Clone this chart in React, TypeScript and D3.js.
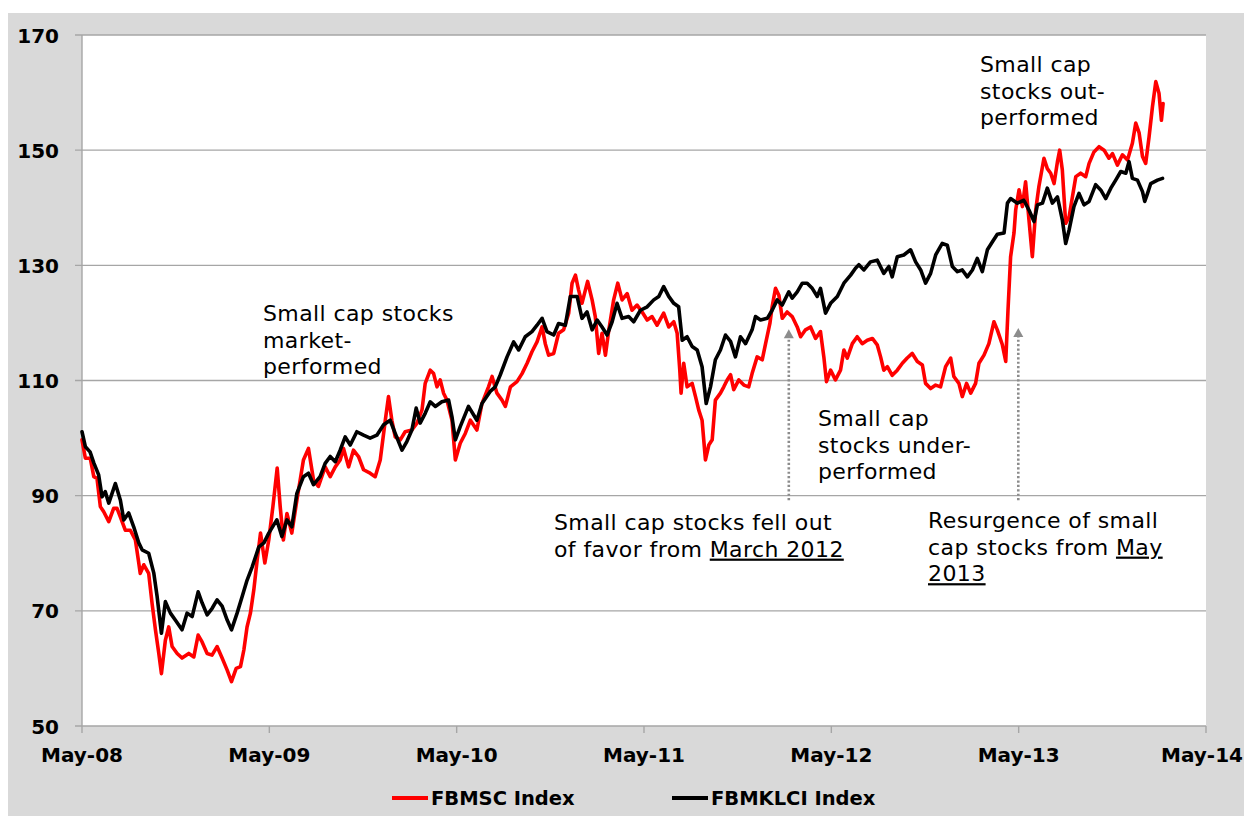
import React from 'react';
import * as d3 from 'd3';

const xTickYears = [2008.333, 2009.333, 2010.333, 2011.333, 2012.333, 2013.333, 2014.333];
const xTickLabels = ['May-08', 'May-09', 'May-10', 'May-11', 'May-12', 'May-13', 'May-14'];
const yTicks = [50, 70, 90, 110, 130, 150, 170];
const seriesNames = ['FBMSC Index', 'FBMKLCI Index'];
const seriesColors = ['#ff0000', '#000000'];

// [decimal year, index level]
const fbmsc: [number, number][] = [
  [2008.333, 99.7], [2008.351, 96.5], [2008.377, 96.5], [2008.396, 93.3], [2008.413, 93.0], [2008.431, 88.1],
  [2008.449, 87.2], [2008.476, 85.5], [2008.502, 87.8], [2008.52, 87.8], [2008.538, 86.3], [2008.564, 84.0],
  [2008.591, 84.0], [2008.618, 82.3], [2008.636, 78.3], [2008.644, 76.5], [2008.663, 78.0], [2008.689, 76.5],
  [2008.707, 71.3], [2008.725, 66.7], [2008.743, 62.6], [2008.757, 59.1], [2008.778, 64.9], [2008.796, 67.2],
  [2008.814, 63.8], [2008.841, 62.6], [2008.867, 61.8], [2008.903, 62.6], [2008.93, 62.0], [2008.953, 65.8],
  [2008.974, 64.6], [2009.001, 62.6], [2009.027, 62.3], [2009.054, 63.8], [2009.081, 61.8], [2009.108, 59.7],
  [2009.131, 57.7], [2009.156, 60.0], [2009.179, 60.3], [2009.197, 63.2], [2009.214, 67.2], [2009.232, 69.6],
  [2009.25, 73.6], [2009.268, 78.8], [2009.286, 83.5], [2009.309, 78.3], [2009.33, 82.3], [2009.352, 88.1],
  [2009.375, 94.8], [2009.391, 88.1], [2009.408, 82.3], [2009.427, 86.9], [2009.453, 83.5], [2009.48, 89.2],
  [2009.515, 96.2], [2009.542, 98.2], [2009.569, 92.7], [2009.595, 91.6], [2009.631, 95.0], [2009.658, 93.3],
  [2009.685, 95.0], [2009.711, 96.2], [2009.729, 98.2], [2009.756, 95.0], [2009.782, 97.9], [2009.809, 96.8],
  [2009.836, 94.5], [2009.871, 93.9], [2009.898, 93.3], [2009.925, 96.2], [2009.952, 103.1], [2009.969, 107.2],
  [2009.987, 103.1], [2010.005, 100.2], [2010.032, 99.7], [2010.058, 101.1], [2010.094, 101.4], [2010.121, 102.6],
  [2010.148, 104.9], [2010.165, 109.5], [2010.192, 111.8], [2010.21, 111.2], [2010.228, 108.9], [2010.245, 110.1],
  [2010.263, 107.8], [2010.281, 106.6], [2010.308, 103.1], [2010.326, 96.2], [2010.352, 99.1], [2010.379, 100.8],
  [2010.406, 103.1], [2010.441, 101.4], [2010.468, 106.0], [2010.503, 108.9], [2010.522, 110.7], [2010.548, 107.8],
  [2010.575, 106.6], [2010.593, 105.5], [2010.62, 108.9], [2010.655, 109.8], [2010.682, 111.2], [2010.709, 113.0],
  [2010.735, 115.0], [2010.762, 116.7], [2010.789, 119.3], [2010.806, 116.4], [2010.824, 114.4], [2010.851, 114.7],
  [2010.877, 118.2], [2010.904, 118.8], [2010.931, 121.7], [2010.949, 126.9], [2010.967, 128.3], [2010.984, 125.7],
  [2011.002, 123.4], [2011.02, 125.7], [2011.032, 127.2], [2011.056, 124.0], [2011.073, 121.1], [2011.091, 114.7],
  [2011.109, 118.2], [2011.127, 114.4], [2011.144, 118.5], [2011.171, 124.0], [2011.193, 126.9], [2011.216, 124.0],
  [2011.243, 125.1], [2011.269, 122.2], [2011.296, 123.1], [2011.323, 121.9], [2011.35, 120.5], [2011.376, 121.1],
  [2011.403, 119.6], [2011.438, 121.7], [2011.465, 119.3], [2011.492, 120.2], [2011.51, 118.2], [2011.524, 111.8],
  [2011.531, 107.8], [2011.545, 113.0], [2011.563, 108.9], [2011.59, 109.5], [2011.608, 107.2], [2011.625, 104.9],
  [2011.643, 103.1], [2011.661, 96.2], [2011.679, 98.8], [2011.697, 99.7], [2011.714, 106.6], [2011.741, 107.8],
  [2011.759, 108.9], [2011.777, 110.1], [2011.795, 111.0], [2011.812, 108.4], [2011.839, 110.1], [2011.866, 109.2],
  [2011.892, 108.9], [2011.91, 111.2], [2011.937, 114.1], [2011.964, 113.6], [2011.982, 116.4], [2012.005, 119.9],
  [2012.017, 122.8], [2012.035, 126.0], [2012.053, 124.8], [2012.071, 120.8], [2012.097, 121.9], [2012.124, 121.1],
  [2012.151, 119.3], [2012.169, 117.6], [2012.195, 118.8], [2012.222, 119.3], [2012.249, 117.3], [2012.275, 118.5],
  [2012.293, 114.1], [2012.307, 109.8], [2012.329, 111.8], [2012.355, 110.1], [2012.382, 111.8], [2012.4, 115.3],
  [2012.418, 113.9], [2012.445, 116.4], [2012.471, 117.6], [2012.498, 116.4], [2012.525, 117.0], [2012.552, 117.3],
  [2012.578, 116.2], [2012.596, 114.1], [2012.613, 111.8], [2012.632, 112.4], [2012.658, 110.9], [2012.685, 111.8],
  [2012.712, 113.0], [2012.738, 113.9], [2012.765, 114.7], [2012.792, 113.3], [2012.819, 112.7], [2012.836, 109.5],
  [2012.863, 108.6], [2012.89, 109.2], [2012.916, 108.9], [2012.943, 112.4], [2012.97, 113.9], [2012.987, 110.7],
  [2013.014, 109.5], [2013.032, 107.2], [2013.055, 109.5], [2013.077, 107.8], [2013.103, 109.5], [2013.121, 113.0],
  [2013.148, 114.4], [2013.174, 116.4], [2013.201, 120.2], [2013.219, 118.8], [2013.246, 116.2], [2013.264, 113.3],
  [2013.276, 122.2], [2013.29, 131.5], [2013.308, 135.6], [2013.317, 139.6], [2013.335, 143.1], [2013.353, 140.2],
  [2013.37, 144.5], [2013.388, 137.9], [2013.406, 131.5], [2013.424, 139.6], [2013.441, 143.7], [2013.468, 148.6],
  [2013.486, 146.8], [2013.504, 146.0], [2013.522, 144.2], [2013.54, 148.0], [2013.552, 150.0], [2013.566, 146.6],
  [2013.584, 137.3], [2013.602, 138.4], [2013.62, 141.9], [2013.638, 145.4], [2013.664, 146.0], [2013.691, 145.4],
  [2013.709, 147.7], [2013.735, 149.7], [2013.762, 150.6], [2013.789, 150.0], [2013.815, 148.6], [2013.834, 149.4],
  [2013.86, 147.4], [2013.887, 149.2], [2013.914, 148.3], [2013.94, 151.2], [2013.958, 154.7], [2013.976, 153.0],
  [2013.994, 148.9], [2014.011, 147.7], [2014.029, 152.3], [2014.047, 157.5], [2014.065, 161.9], [2014.082, 159.9],
  [2014.095, 155.2], [2014.104, 158.1],
];

const fbmklci: [number, number][] = [
  [2008.333, 101.1], [2008.351, 98.5], [2008.376, 97.6], [2008.396, 95.7], [2008.422, 93.6], [2008.44, 89.8],
  [2008.457, 90.7], [2008.476, 88.7], [2008.511, 92.1], [2008.538, 89.2], [2008.556, 85.8], [2008.582, 87.0],
  [2008.609, 84.6], [2008.636, 81.8], [2008.654, 80.6], [2008.689, 80.0], [2008.716, 76.6], [2008.734, 72.5],
  [2008.757, 66.1], [2008.778, 71.6], [2008.805, 69.6], [2008.831, 68.4], [2008.867, 66.7], [2008.894, 69.6],
  [2008.921, 69.0], [2008.953, 73.3], [2008.974, 71.4], [2009.001, 69.3], [2009.027, 70.4], [2009.054, 71.9],
  [2009.081, 70.8], [2009.108, 68.4], [2009.131, 66.7], [2009.161, 69.6], [2009.188, 72.5], [2009.214, 75.3],
  [2009.241, 77.6], [2009.277, 81.1], [2009.304, 81.8], [2009.33, 83.5], [2009.373, 85.8], [2009.4, 82.9],
  [2009.427, 85.8], [2009.453, 84.6], [2009.48, 90.4], [2009.515, 93.3], [2009.542, 93.9], [2009.569, 91.9],
  [2009.604, 93.3], [2009.631, 95.6], [2009.658, 96.8], [2009.685, 95.9], [2009.711, 97.9], [2009.738, 100.2],
  [2009.765, 98.8], [2009.8, 101.1], [2009.836, 100.5], [2009.871, 100.0], [2009.907, 100.5], [2009.943, 102.3],
  [2009.978, 103.1], [2010.005, 100.8], [2010.041, 97.9], [2010.067, 99.4], [2010.094, 101.4], [2010.117, 105.2],
  [2010.138, 102.6], [2010.165, 104.3], [2010.192, 106.3], [2010.219, 105.5], [2010.254, 106.3], [2010.29, 106.6],
  [2010.308, 103.7], [2010.326, 99.7], [2010.352, 102.0], [2010.396, 105.5], [2010.441, 103.1], [2010.468, 106.0],
  [2010.512, 108.1], [2010.539, 108.9], [2010.566, 111.0], [2010.602, 114.1], [2010.637, 116.7], [2010.664, 115.3],
  [2010.699, 117.6], [2010.735, 118.5], [2010.762, 119.6], [2010.789, 120.8], [2010.815, 118.5], [2010.851, 117.9],
  [2010.877, 119.9], [2010.913, 119.6], [2010.94, 124.6], [2010.976, 124.6], [2011.002, 120.8], [2011.029, 121.9],
  [2011.056, 118.8], [2011.083, 120.5], [2011.109, 119.3], [2011.136, 117.9], [2011.163, 120.2], [2011.189, 123.4],
  [2011.216, 120.8], [2011.251, 121.1], [2011.278, 120.2], [2011.314, 122.2], [2011.35, 122.8], [2011.385, 124.0],
  [2011.412, 124.6], [2011.438, 126.3], [2011.465, 124.6], [2011.492, 123.4], [2011.518, 122.8], [2011.537, 117.0],
  [2011.563, 117.6], [2011.59, 115.9], [2011.617, 115.3], [2011.643, 112.4], [2011.665, 106.0], [2011.688, 108.9],
  [2011.714, 113.6], [2011.741, 115.3], [2011.768, 117.9], [2011.795, 116.8], [2011.821, 114.1], [2011.848, 117.6],
  [2011.875, 116.4], [2011.91, 118.8], [2011.928, 121.1], [2011.955, 120.5], [2011.991, 120.8], [2012.017, 122.2],
  [2012.044, 124.0], [2012.071, 123.1], [2012.106, 125.4], [2012.124, 124.3], [2012.151, 125.4], [2012.178, 126.9],
  [2012.204, 126.9], [2012.231, 126.0], [2012.258, 124.6], [2012.275, 126.0], [2012.302, 121.7], [2012.329, 123.4],
  [2012.365, 124.6], [2012.4, 126.9], [2012.436, 128.3], [2012.462, 129.5], [2012.48, 130.1], [2012.507, 129.2],
  [2012.542, 130.6], [2012.578, 130.9], [2012.613, 128.6], [2012.64, 129.8], [2012.658, 128.0], [2012.685, 131.5],
  [2012.72, 131.8], [2012.756, 132.7], [2012.783, 130.6], [2012.81, 129.2], [2012.836, 126.9], [2012.863, 128.6],
  [2012.89, 131.8], [2012.925, 133.8], [2012.952, 133.5], [2012.979, 129.8], [2013.006, 128.9], [2013.032, 129.2],
  [2013.059, 128.0], [2013.086, 129.2], [2013.112, 131.2], [2013.139, 128.9], [2013.166, 132.7], [2013.193, 134.1],
  [2013.219, 135.4], [2013.255, 135.6], [2013.273, 140.8], [2013.29, 141.6], [2013.326, 140.8], [2013.361, 141.3],
  [2013.388, 139.6], [2013.415, 137.6], [2013.433, 140.5], [2013.46, 140.8], [2013.486, 143.4], [2013.513, 140.8],
  [2013.54, 141.9], [2013.566, 137.9], [2013.584, 133.8], [2013.602, 136.1], [2013.628, 140.2], [2013.655, 142.5],
  [2013.682, 140.5], [2013.709, 141.1], [2013.744, 144.0], [2013.771, 143.1], [2013.798, 141.6], [2013.825, 143.4],
  [2013.851, 144.8], [2013.878, 146.3], [2013.905, 146.0], [2013.922, 148.0], [2013.94, 145.1], [2013.967, 144.8],
  [2013.994, 142.8], [2014.006, 141.1], [2014.021, 142.5], [2014.038, 144.2], [2014.074, 144.8], [2014.101, 145.1],
];

// Arrow annotations: [decimal year, bottom level, tip level]
const arrowMarks: [number, number, number][] = [
  [2012.106, 89.2, 118.9],
  [2013.331, 89.2, 119.1],
];

const FONT = "'DejaVu Sans', Verdana, sans-serif";

export default function App() {
  const W = 1244;
  const H = 816;
  const left = 82, right = 1206, top = 35, bottom = 726;
  const x = d3.scaleLinear().domain([2008.333, 2014.333]).range([left, right]);
  const y = d3.scaleLinear().domain([50, 170]).range([bottom, top]);
  const line = d3.line<[number, number]>().x(d => x(d[0])).y(d => y(d[1]));
  const gridColor = '#a6a6a6';
  const annStyle: React.CSSProperties = { fontFamily: FONT, fontSize: 22, fill: '#000', letterSpacing: 0.4 };
  const lh = 26.6;

  return (
    <svg width={W} height={H} style={{ position: 'absolute', left: 0, top: 0, display: 'block' }}>
      <rect x={8} y={13} width={W - 8} height={H - 13} fill="#d9d9d9" />
      <rect x={left} y={top} width={right - left} height={bottom - top} fill="#ffffff" />
      {yTicks.map(t => (
        <g key={t}>
          <line x1={left - 7} x2={right} y1={y(t)} y2={y(t)} stroke={gridColor} strokeWidth={1.4} />
          <text x={59} y={y(t) + 7.5} textAnchor="end" style={{ fontFamily: FONT, fontWeight: 'bold', fontSize: 20 }}>{t}</text>
        </g>
      ))}
      <line x1={left} x2={left} y1={top} y2={bottom} stroke={gridColor} strokeWidth={1.4} />
      {xTickYears.map((t, i) => (
        <g key={t}>
          <line x1={x(t)} x2={x(t)} y1={bottom} y2={bottom + 7} stroke={gridColor} strokeWidth={1.4} />
          <text x={i === xTickYears.length - 1 ? Math.min(x(t), 1202) : x(t)} y={762} textAnchor="middle" style={{ fontFamily: FONT, fontWeight: 'bold', fontSize: 20 }}>{xTickLabels[i]}</text>
        </g>
      ))}

      {arrowMarks.map((a, i) => {
        const ax = x(a[0]);
        const yb = y(a[1]);
        const yt = y(a[2]);
        return (
          <g key={i}>
            <line x1={ax} x2={ax} y1={yb} y2={yt + 8} stroke="#8c8c8c" strokeWidth={2.6} strokeDasharray="2.2 2.2" />
            <path d={`M${ax - 5},${yt + 9} L${ax},${yt} L${ax + 5},${yt + 9} Z`} fill="#8c8c8c" />
          </g>
        );
      })}

      <path d={line(fbmsc) || ''} fill="none" stroke={seriesColors[0]} strokeWidth={3.6} strokeLinejoin="round" strokeLinecap="round" />
      <path d={line(fbmklci) || ''} fill="none" stroke={seriesColors[1]} strokeWidth={3.6} strokeLinejoin="round" strokeLinecap="round" />

      <text style={annStyle}>
        <tspan x={263} y={321}>Small cap stocks</tspan>
        <tspan x={263} y={321 + lh}>market-</tspan>
        <tspan x={263} y={321 + 2 * lh}>performed</tspan>
      </text>
      <text style={annStyle}>
        <tspan x={818} y={426}>Small cap</tspan>
        <tspan x={818} y={426 + lh}>stocks under-</tspan>
        <tspan x={818} y={426 + 2 * lh}>performed</tspan>
      </text>
      <text style={annStyle}>
        <tspan x={554} y={530}>Small cap stocks fell out</tspan>
        <tspan x={554} y={530 + lh}>of favor from </tspan>
        <tspan style={{ textDecoration: 'underline' }}>March 2012</tspan>
      </text>
      <text style={annStyle}>
        <tspan x={928} y={528}>Resurgence of small</tspan>
        <tspan x={928} y={528 + lh}>cap stocks from </tspan>
        <tspan style={{ textDecoration: 'underline' }}>May</tspan>
        <tspan x={928} y={528 + 2 * lh} style={{ textDecoration: 'underline' }}>2013</tspan>
      </text>
      <text style={annStyle}>
        <tspan x={980} y={72}>Small cap</tspan>
        <tspan x={980} y={72 + lh}>stocks out-</tspan>
        <tspan x={980} y={72 + 2 * lh}>performed</tspan>
      </text>

      {seriesNames.map((n, i) => {
        const lx = i === 0 ? 392 : 672;
        return (
          <g key={n}>
            <line x1={lx} x2={lx + 36} y1={798} y2={798} stroke={seriesColors[i]} strokeWidth={4} />
            <text x={lx + 39} y={805} style={{ fontFamily: FONT, fontWeight: 'bold', fontSize: 19.5 }}>{n}</text>
          </g>
        );
      })}
    </svg>
  );
}
